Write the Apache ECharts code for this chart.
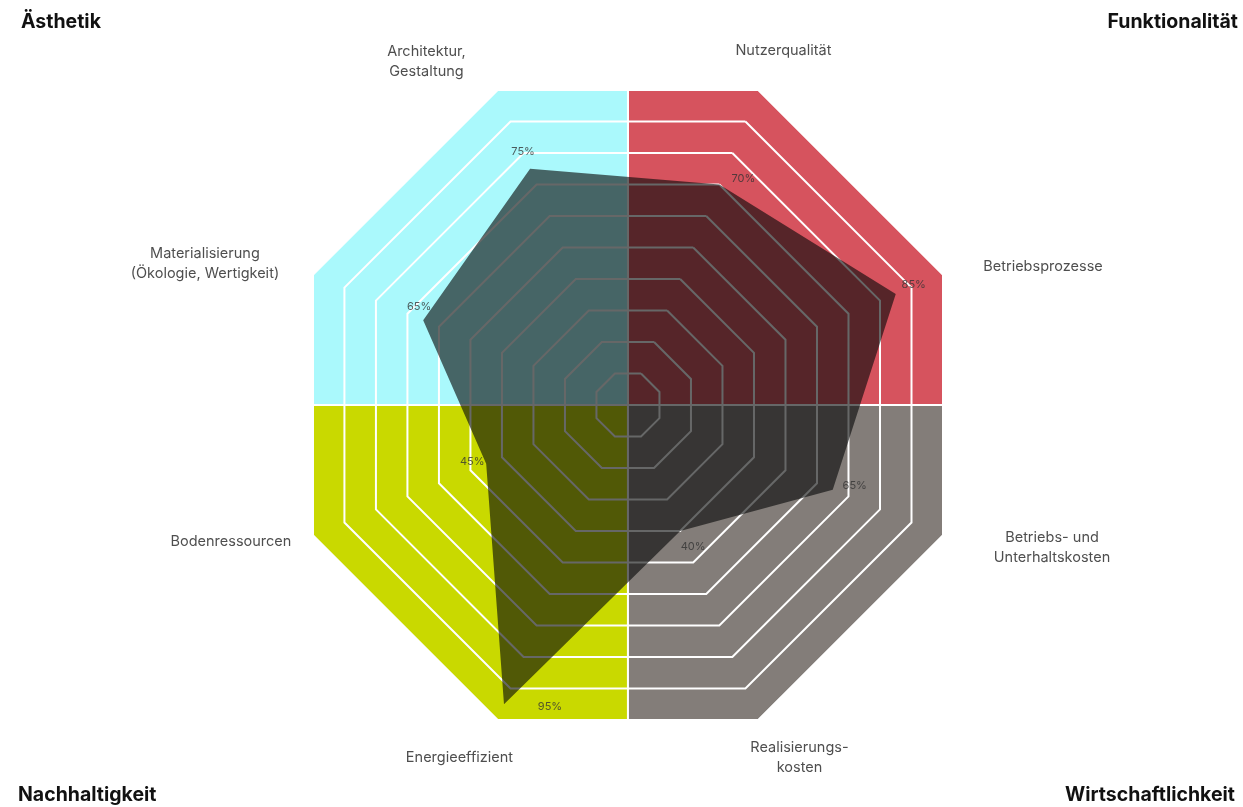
<!DOCTYPE html>
<html>
<head>
<meta charset="utf-8">
<script src="https://cdn.jsdelivr.net/npm/echarts@6/dist/echarts.min.js"></script>
<style>
html,body{margin:0;padding:0;background:#fff;}
#chart{width:1243px;height:807px;}
</style>
</head>
<body>
<div id="chart"></div>
<script>
// ---- data (indicators listed counter-clockwise, starting upper right) ----
const indicatorNames = [
  'Nutzerqualität',
  'Architektur,\nGestaltung',
  'Materialisierung\n(Ökologie, Wertigkeit)',
  'Bodenressourcen',
  'Energieeffizient',
  'Realisierungs-\nkosten',
  'Betriebs- und\nUnterhaltskosten',
  'Betriebsprozesse'
];
const scores = [70, 75, 65, 45, 95, 40, 65, 85];
const maxScore = 100;
const quadrantNames = ['Funktionalität', 'Ästhetik', 'Nachhaltigkeit', 'Wirtschaftlichkeit'];
const quadrantStartAngles = [0, 90, 180, 270];

// ---- styles ----
const quadrantColors = ['#d6535e', '#aaf9fc', '#c9d900', '#837d79'];
const nameOffsets = [[25,-39],[-71,-28],[-108,-11],[-82,6],[-38,38],[41,38],[109,12],[100,-8]];
const valueOffsets = [[24,-6],[-7,-17],[-4,-14],[-14,-2],[46,2],[13,16],[22,-4],[18,-9]];
const startAngle = 67.5;
const CENTER = ['50.52%', '50.19%'];
const RADIUS = 341;
const FONT = 'Inter, "Noto Sans", sans-serif';

const n = indicatorNames.length;
const angleOf = i => startAngle + i * 360 / n;

const chart = echarts.init(document.getElementById('chart'), null, {renderer: 'canvas'});
const option = {
  backgroundColor: '#ffffff',
  animation: false,
  title: [
    {text: quadrantNames[1], left: 21, top: 12},
    {text: quadrantNames[0], right: 5, top: 12},
    {text: quadrantNames[2], left: 18, bottom: 2},
    {text: quadrantNames[3], right: 8, bottom: 2}
  ].map(t => Object.assign(t, {padding: 0, textStyle: {fontFamily: FONT, fontWeight: 'bold', fontSize: 19.5, color: '#111'}})),
  polar: {center: CENTER, radius: RADIUS},
  angleAxis: {type: 'value', min: 0, max: 360, startAngle: 0, clockwise: false, show: false},
  radiusAxis: {type: 'value', min: 0, max: maxScore, show: false},
  radar: {
    z: 1,
    center: CENTER,
    radius: RADIUS,
    startAngle: startAngle,
    shape: 'polygon',
    splitNumber: 10,
    indicator: indicatorNames.map(name => ({name: name, min: 0, max: maxScore})),
    axisName: {show: false},
    axisLine: {show: false},
    axisTick: {show: false},
    axisLabel: {show: false},
    splitArea: {show: false},
    splitLine: {lineStyle: {color: '#ffffff', width: 2}}
  },
  series: [
    {
      type: 'custom',
      coordinateSystem: 'polar',
      z: 0,
      silent: true,
      data: quadrantStartAngles.map(a => [0, a]),
      renderItem: function (params, api) {
        const start = api.value(1);
        const pts = [api.coord([0, start])];
        for (let k = 0; k <= 4; k++) {
          const r = (k % 2 === 0) ? maxScore * Math.cos(Math.PI / 8) : maxScore;
          pts.push(api.coord([r, start + k * 22.5]));
        }
        return {
          type: 'polygon',
          shape: {points: pts},
          style: {fill: quadrantColors[params.dataIndex], stroke: '#ffffff', lineWidth: 2}
        };
      }
    },
    {
      type: 'radar',
      z: 2,
      silent: true,
      symbol: 'none',
      lineStyle: {width: 0, opacity: 0},
      areaStyle: {color: 'rgba(8,10,10,0.62)', opacity: 1},
      data: [{value: scores, name: 'Bewertung'}]
    },
    {
      type: 'scatter',
      coordinateSystem: 'polar',
      z: 3,
      silent: true,
      symbolSize: 1,
      itemStyle: {color: 'rgba(0,0,0,0)'},
      data: scores.map((v, i) => ({
        value: [v, angleOf(i)],
        label: {offset: valueOffsets[i]}
      })),
      label: {
        show: true, position: 'inside', align: 'center', verticalAlign: 'middle',
        formatter: p => p.value[0] + '%',
        fontFamily: FONT, fontSize: 11, color: '#333'
      }
    },
    {
      type: 'scatter',
      coordinateSystem: 'polar',
      z: 3,
      silent: true,
      symbolSize: 1,
      itemStyle: {color: 'rgba(0,0,0,0)'},
      data: indicatorNames.map((name, i) => ({
        name: name,
        value: [maxScore, angleOf(i)],
        label: {offset: nameOffsets[i]}
      })),
      label: {
        show: true, position: 'inside', align: 'center', verticalAlign: 'middle',
        formatter: p => p.name,
        fontFamily: FONT, fontSize: 14.5, lineHeight: 20, color: '#222'
      }
    }
  ]
};
chart.setOption(option);
</script>
</body>
</html>
